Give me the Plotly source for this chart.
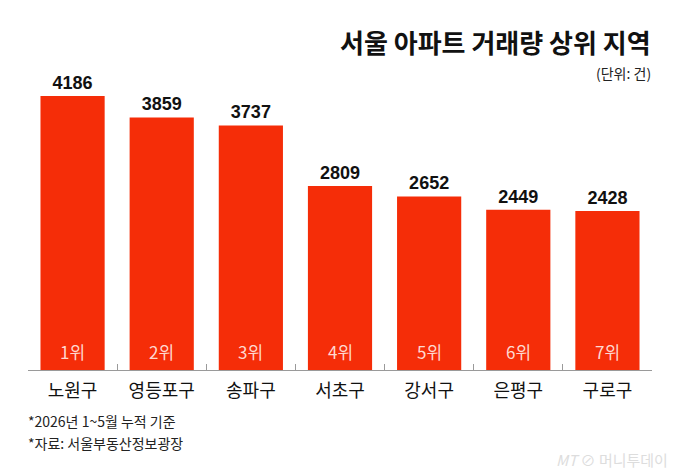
import plotly.graph_objects as go

categories = ["노원구", "영등포구", "송파구", "서초구", "강서구", "은평구", "구로구"]
values = [4186, 3859, 3737, 2809, 2652, 2449, 2428]
ranks = ["1위", "2위", "3위", "4위", "5위", "6위", "7위"]

KR = "Noto Sans CJK KR"
NUM = "Liberation Sans"
RED = "#F52D08"

fig = go.Figure()
fig.add_trace(go.Bar(
    x=categories, y=values,
    marker=dict(color=RED, line=dict(width=0)),
    text=[f"<b>{v}</b>" for v in values],
    textposition="outside",
    textfont=dict(family=NUM, size=18, color="#111111"),
    cliponaxis=False,
    hoverinfo="skip",
))

for c, r in zip(categories, ranks):
    fig.add_annotation(x=c, y=0, yref="y", text=r, showarrow=False,
                       yanchor="bottom", yshift=4,
                       font=dict(family=KR, size=17, color="#FFD8D0"))

fig.update_layout(
    width=680, height=475,
    margin=dict(l=28, r=28, t=70, b=105),
    paper_bgcolor="white", plot_bgcolor="white",
    showlegend=False,
    bargap=0.28,
    xaxis=dict(
        showline=True, linecolor="#9a9a9a", linewidth=1,
        ticks="inside", tickson="boundaries", ticklen=6, tickcolor="#9a9a9a",
        tickfont=dict(family=KR, size=18, color="#111111"),
        ticklabelstandoff=4,
        showgrid=False, fixedrange=True,
    ),
    yaxis=dict(range=[0, 4583], visible=False, showgrid=False, fixedrange=True),
)

def px_x(x):
    return (x - 28) / (680 - 56)

def px_y(y):
    return (475 - 105 - y) / (475 - 175)

fig.add_annotation(x=px_x(653), y=px_y(41), xref="paper", yref="paper",
                   text="<b>서울 아파트 거래량 상위 지역</b>", showarrow=False,
                   xanchor="right", yanchor="middle",
                   font=dict(family=KR, size=26, color="#111111"))
fig.add_annotation(x=px_x(653), y=px_y(73), xref="paper", yref="paper",
                   text="(단위: 건)", showarrow=False,
                   xanchor="right", yanchor="middle",
                   font=dict(family=KR, size=14, color="#222222"))
fig.add_annotation(x=px_x(26), y=px_y(421), xref="paper", yref="paper",
                   text="*2026년 1~5월 누적 기준", showarrow=False,
                   xanchor="left", yanchor="middle",
                   font=dict(family=KR, size=14, color="#222222"))
fig.add_annotation(x=px_x(26), y=px_y(443), xref="paper", yref="paper",
                   text="*자료: 서울부동산정보광장", showarrow=False,
                   xanchor="left", yanchor="middle",
                   font=dict(family=KR, size=14, color="#222222"))
fig.add_annotation(x=px_x(670), y=px_y(459), xref="paper", yref="paper",
                   text="<i>MT</i> ⊘ 머니투데이", showarrow=False,
                   xanchor="right", yanchor="middle",
                   font=dict(family=KR, size=15, color="#DDDDDD"))

fig.write_html("out.html")
